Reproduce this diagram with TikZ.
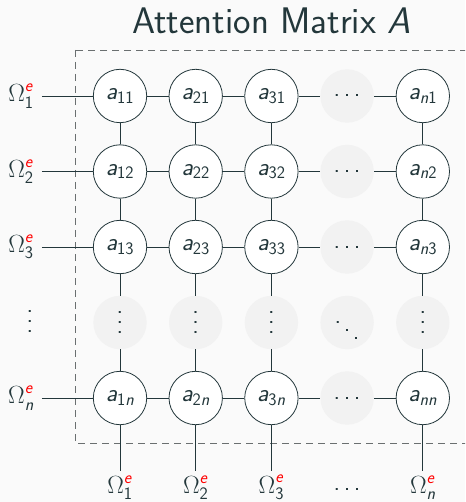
\documentclass[tikz,border=0pt]{standalone}
\usepackage[OT1,TU]{fontenc}
\usepackage{amsmath}
\renewcommand{\familydefault}{\sfdefault}
\definecolor{bg}{HTML}{FAFAFA}
\definecolor{dk}{HTML}{23373B}
\definecolor{dotfill}{HTML}{F2F2F2}
\definecolor{dashc}{HTML}{6A6F70}
\newcommand{\OmG}{{\fontencoding{OT1}\fontfamily{lmss}\selectfont\char10}}
\newcommand{\av}[1]{$\text{\sffamily\slshape a}_{\text{\sffamily #1}}$}
\newcommand{\Om}[1]{$\text{\OmG}^{\text{\sffamily\slshape\color{red}e}}_{\text{\sffamily #1}}$}
\newcommand{\nn}{{\slshape n}}
\newcommand{\hd}{\hbox{.\kern3.6pt.\kern3.6pt.}}
\newcommand{\vd}{\vbox{\baselineskip=10pt\lineskiplimit=0pt\hbox{.}\hbox{.}\hbox{.}}}
\newcommand{\dd}{\rule{0pt}{18pt}\raisebox{0pt}{.}\kern2.6pt\raisebox{-8pt}{.}\kern2.6pt\raisebox{-16pt}{.}}
\tikzset{
  cell/.style={circle, draw=dk, fill=white, line width=0.8pt, minimum size=53.4pt, inner sep=0pt, text=dk, font=\fontsize{25}{30}\selectfont},
  dotcell/.style={circle, fill=dotfill, draw=none, minimum size=53.4pt, inner sep=0pt, text=dk, font=\fontsize{25}{30}\selectfont},
  lab/.style={text=dk, inner xsep=8pt, inner ysep=4pt, font=\fontsize{25}{30}\selectfont},
  conn/.style={draw=dk, line width=0.8pt},
  box/.style={draw=dashc, line width=0.9pt, dash pattern=on 7pt off 5pt}
}
\begin{document}
\begin{tikzpicture}[x=1pt,y=-1pt]
\useasboundingbox (0,0) rectangle (465,502);
\fill[bg] (0,0) rectangle (465,502);
\clip (0,0) rectangle (465,502);
\node[text=dk, font=\fontsize{37}{44}\selectfont\sffamily] (title) at (271.5,21) {Attention Matrix {\slshape A}};
\draw[box] (75,50) rectangle (520,443);
% cells
\foreach \c/\x/\cl in {1/120/1, 2/195.7/2, 3/271.4/3, n/422.8/\nn}{
  \foreach \r/\y/\rl in {1/96/1, 2/171.5/2, 3/247/3, n/398/\nn}{
    \node[cell] (a\c\r) at (\x,\y) {\av{\cl\rl}};
  }
  \node[dotcell] (d\c) at (\x,322.5) {\vd};
  \node[lab] (B\c) at (\x,487.5) {\Om{\cl}};
}
\foreach \r/\y/\rl in {1/96/1, 2/171.5/2, 3/247/3, n/398/\nn}{
  \node[dotcell] (h\r) at (347.1,\y) {\hd};
  \node[lab] (L\r) at (21,\y) {\Om{\rl}};
}
\node[dotcell] (dd) at (347.1,322.5) {\dd};
\node[lab] (Lv) at (30,321) {\vd};
\node[lab] (Bh) at (347.1,489) {\hd};
% connectors
\foreach \r in {1,2,3,n}{
  \draw[conn] (L\r) -- (a1\r) -- (a2\r) -- (a3\r) -- (h\r) -- (an\r);
}
\foreach \c in {1,2,3,n}{
  \draw[conn] (a\c1) -- (a\c2) -- (a\c3) -- (d\c) -- (a\c n) -- (B\c);
}
\end{tikzpicture}
\end{document}
